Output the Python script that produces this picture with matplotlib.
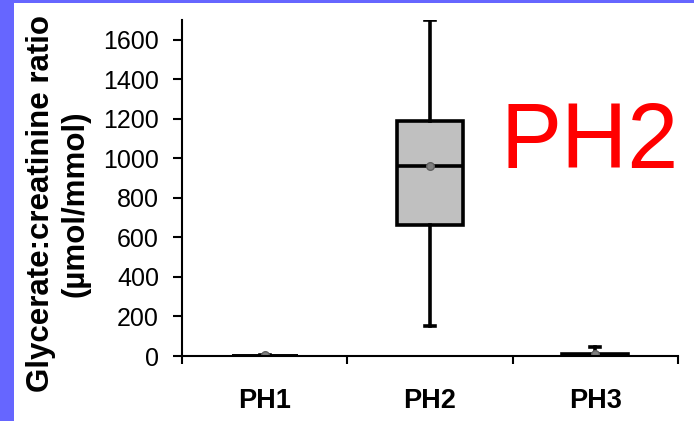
import matplotlib
matplotlib.use("Agg")
import matplotlib.pyplot as plt
from matplotlib.patches import Rectangle

categories = ["PH1", "PH2", "PH3"]
q1 = [0, 665, 0]
medians = [0, 960, 4]
q3 = [0, 1190, 9]
whis_lo = [0, 150, 0]
whis_hi = [4, 1700, 45]
means = [4, 960, 12]
yticks = [0, 200, 400, 600, 800, 1000, 1200, 1400, 1600]

plt.rcParams['font.family'] = ['Liberation Sans', 'DejaVu Sans']

fig = plt.figure(figsize=(6.94, 4.21), dpi=100)
fig.patch.set_facecolor('white')
# blue frame
fig.add_artist(Rectangle((0, 0), 14/694, 1, transform=fig.transFigure, color='#6666ff', lw=0))
fig.add_artist(Rectangle((0, 1 - 3/421), 1, 3/421, transform=fig.transFigure, color='#6666ff', lw=0))

ax = fig.add_axes([182/694, 65/421, (678-182)/694, (356-20)/421])

stats = []
for i, c in enumerate(categories):
    stats.append(dict(label=c, q1=q1[i], med=medians[i], q3=q3[i],
                      whislo=whis_lo[i], whishi=whis_hi[i], mean=means[i], fliers=[]))

lw = 2.6
ax.bxp(stats, positions=[1, 2, 3], widths=0.4, patch_artist=True, showmeans=True,
       boxprops=dict(facecolor='#c0c0c0', edgecolor='black', linewidth=lw),
       medianprops=dict(color='black', linewidth=lw),
       whiskerprops=dict(color='black', linewidth=lw),
       capprops=dict(color='black', linewidth=lw),
       capwidths=0.06,
       meanprops=dict(marker='o', markerfacecolor='#808080', markeredgecolor='#606060',
                      markersize=5.5))

ax.set_xlim(0.5, 3.5)
ax.set_ylim(0, 1700)
ax.set_yticks(yticks)
ax.set_yticklabels([str(v) for v in yticks], fontsize=18)
ax.set_xticks([0.5, 1.5, 2.5, 3.5])
ax.set_xticklabels([])
ax.set_xticks([1, 2, 3], minor=True)
ax.set_xticklabels(categories, minor=True, fontsize=19.5, fontweight='bold')
ax.tick_params(axis='x', which='minor', length=0, pad=23)
ax.tick_params(axis='x', which='major', direction='out', length=6, width=1.5)
ax.tick_params(axis='y', direction='out', length=6.5, width=1.5, pad=10)
for s in ['top', 'right']:
    ax.spines[s].set_visible(False)
for s in ['left', 'bottom']:
    ax.spines[s].set_linewidth(1.5)

fig.text(58/694, 1 - 204/421, "Glycerate:creatinine ratio\n(µmol/mmol)", fontsize=22.5,
         fontweight='bold', rotation=90, ha='center', va='center',
         multialignment='center', linespacing=1.2)

fig.text(500/694, 1 - 168/421, "PH2", color='#ff0000', fontsize=66, ha='left', va='baseline')

fig.savefig("out.png", dpi=100)
